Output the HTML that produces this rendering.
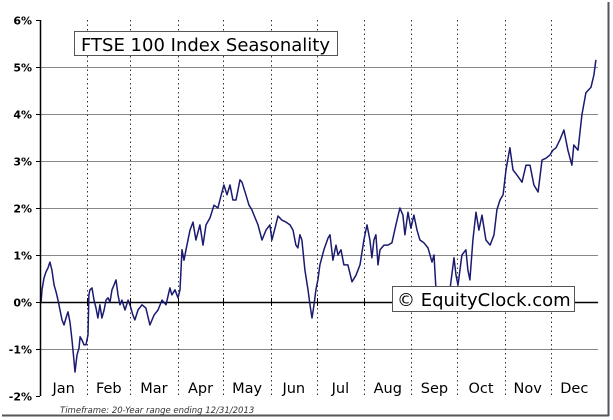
<!DOCTYPE html>
<html><head><meta charset="utf-8"><style>
html,body{margin:0;padding:0;background:#fff;}
svg{display:block;font-family:"DejaVu Sans","Liberation Sans",sans-serif;}
</style></head><body>
<svg id="chart" width="613" height="420" viewBox="0 0 613 420">
<rect x="0" y="0" width="613" height="420" fill="#fff"/>
<line x1="608.5" y1="2" x2="608.5" y2="416" stroke="#555" stroke-width="2"/>
<line x1="2" y1="415.5" x2="609" y2="415.5" stroke="#555" stroke-width="2"/>
<g id="grid"></g>
<g id="series"></g>
<g id="axes"></g>
<rect x="74.5" y="31.5" width="263" height="24" fill="#fff" stroke="#555"/>
<text x="81" y="51" font-size="18" fill="#000">FTSE 100 Index Seasonality</text>
<rect x="392.5" y="286.5" width="182" height="25" fill="#fff" stroke="#555"/>
<text x="397" y="306" font-size="18" fill="#000">© EquityClock.com</text>
<text x="60" y="413" font-size="8.5" font-style="italic" fill="#333">Timeframe: 20-Year range ending 12/31/2013</text>
</svg>
<script>
const days=[0.7,1.3,2.6,3.9,5.2,6.5,7.8,9.2,10.5,11.8,13.1,14.4,15.7,17.0,18.3,19.6,20.9,22.2,22.9,24.2,25.5,26.2,27.5,28.8,30.1,31.4,32.0,32.7,34.0,35.3,36.6,37.9,39.2,40.5,41.9,43.2,44.5,45.8,47.1,48.4,49.7,51.0,52.3,53.6,55.6,57.6,58.9,60.8,62.1,64.1,66.7,69.3,71.9,74.6,77.2,79.8,82.4,85.0,86.3,88.3,90.3,91.6,92.9,94.2,95.5,98.1,100.1,102.0,104.6,106.6,108.6,111.2,113.8,116.4,117.7,120.3,122.3,124.3,126.2,128.2,130.8,132.1,134.7,136.7,138.6,140.0,142.6,145.2,147.8,150.4,151.7,153.7,155.7,158.3,160.9,163.5,165.5,167.4,168.7,170.0,171.3,173.3,175.3,176.6,177.9,179.2,180.5,181.8,183.1,185.7,188.4,189.7,191.6,193.6,194.9,196.9,198.8,201.4,204.1,206.7,209.3,211.9,213.9,215.8,217.1,218.4,219.7,221.1,222.4,225.0,227.6,230.2,232.8,235.4,237.4,238.7,240.7,242.6,244.6,246.6,248.5,251.1,253.8,256.4,257.7,259.0,261.6,264.2,268.1,270.8,272.1,273.4,276.0,278.6,279.9,281.2,283.2,285.2,287.1,289.1,291.7,294.4,297.0,298.9,300.9,302.9,304.8,307.4,309.4,312.0,315.3,317.9,320.5,323.1,325.8,328.4,331.0,333.6,335.5,337.5,340.1,342.7,345.3,347.9,349.2,351.9,354.5,357.1,360.4,362.3,363.6];
const pct=[0.00,0.26,0.51,0.64,0.72,0.85,0.68,0.36,0.21,0.04,-0.17,-0.38,-0.49,-0.34,-0.21,-0.43,-0.81,-1.23,-1.49,-1.13,-0.98,-0.74,-0.81,-0.91,-0.91,-0.70,0.15,0.26,0.30,0.04,-0.13,-0.34,-0.06,-0.34,-0.17,0.04,0.09,0.00,0.26,0.36,0.47,0.15,-0.06,0.04,-0.17,0.04,-0.06,-0.28,-0.38,-0.17,-0.06,-0.13,-0.49,-0.28,-0.17,0.04,-0.06,0.30,0.15,0.26,0.09,0.26,1.11,0.89,1.11,1.53,1.70,1.32,1.64,1.21,1.64,1.79,2.06,2.00,2.17,2.49,2.28,2.49,2.17,2.17,2.60,2.55,2.28,2.06,1.96,1.85,1.64,1.32,1.53,1.64,1.32,1.57,1.83,1.74,1.70,1.64,1.53,1.21,1.15,1.43,1.32,0.68,0.26,-0.06,-0.34,-0.06,0.26,0.47,0.79,1.11,1.36,1.43,0.89,1.21,1.00,1.11,0.79,0.79,0.43,0.57,0.79,1.32,1.64,1.32,0.94,1.32,1.43,0.79,1.11,1.21,1.21,1.26,1.64,2.00,1.85,1.43,1.91,1.57,1.85,1.53,1.32,1.26,1.15,0.85,1.00,0.26,0.04,-0.17,0.26,0.94,0.57,0.36,1.00,1.11,0.68,0.47,1.32,1.91,1.53,1.85,1.32,1.21,1.43,1.96,2.17,2.28,2.81,3.28,2.81,2.70,2.55,2.91,2.91,2.49,2.34,3.02,3.06,3.13,3.23,3.28,3.45,3.66,3.23,2.91,3.34,3.23,3.98,4.45,4.57,4.83,5.15];
const months=["Jan","Feb","Mar","Apr","May","Jun","Jul","Aug","Sep","Oct","Nov","Dec"];
const monthDays=[31,28,31,30,31,30,31,31,30,31,30,31];
const yTicks=[6,5,4,3,2,1,0,-1,-2];
const yTickLabels=["6%","5%","4%","3%","2%","1%","0%","-1%","-2%"];

const X0=40,X1=598,Y6=20,Y_2=396;
const xs=d=>X0+d/365*(X1-X0);
const ys=v=>Y6+(6-v)/8*(Y_2-Y6);
const NS="http://www.w3.org/2000/svg";
function mk(tag,parent,attrs){const e=document.createElementNS(NS,tag);for(const k in attrs)e.setAttribute(k,attrs[k]);parent.appendChild(e);return e;}
const grid=document.getElementById('grid'),axes=document.getElementById('axes'),series=document.getElementById('series');

yTicks.forEach((v,i)=>{
  const y=Math.round(ys(v))+0.5;
  if(v!==-2&&v!==6){
    const l=mk('line',grid,{x1:X0,x2:X1,y1:y,y2:y,stroke:v===0?'#000':'#888','stroke-width':v===0?1.5:1});
    
    
  }
  const tk=mk('line',axes,{x1:X0-4,x2:X0,y1:y,y2:y,stroke:'#000'});
  
  
  const t=mk('text',axes,{x:X0-8,y:y+4,'text-anchor':'end','font-size':11,'font-weight':'bold',fill:'#000'});
  t.textContent=yTickLabels[i];
  
  
});
let cum=0;
months.forEach((m,i)=>{
  const mid=cum+monthDays[i]/2;
  cum+=monthDays[i];
  if(i<11){
    const x=Math.round(xs(cum))+0.5;
    const l=mk('line',grid,{x1:x,x2:x,y1:Y6,y2:Y_2,stroke:'#333','stroke-dasharray':'1.5,3'});
    
    
    const tk=mk('line',axes,{x1:x,x2:x,y1:ys(0)-4,y2:ys(0)+4,stroke:'#000'});
    
    
  }
  const t=mk('text',axes,{x:xs(mid),y:393,'text-anchor':'middle','font-size':14.5,fill:'#000'});
  t.textContent=m;
  
  
});
const ax=mk('line',axes,{x1:X0+0.5,x2:X0+0.5,y1:Y6,y2:Y_2,stroke:'#000','stroke-width':1.5});


const pts=days.map((d,i)=>xs(d).toFixed(1)+','+ys(pct[i]).toFixed(1)).join(' ');
const pl=mk('polyline',series,{points:pts,fill:'none',stroke:'#1a1a70','stroke-width':1.5,'stroke-linejoin':'round'});


</script>
</body></html>
